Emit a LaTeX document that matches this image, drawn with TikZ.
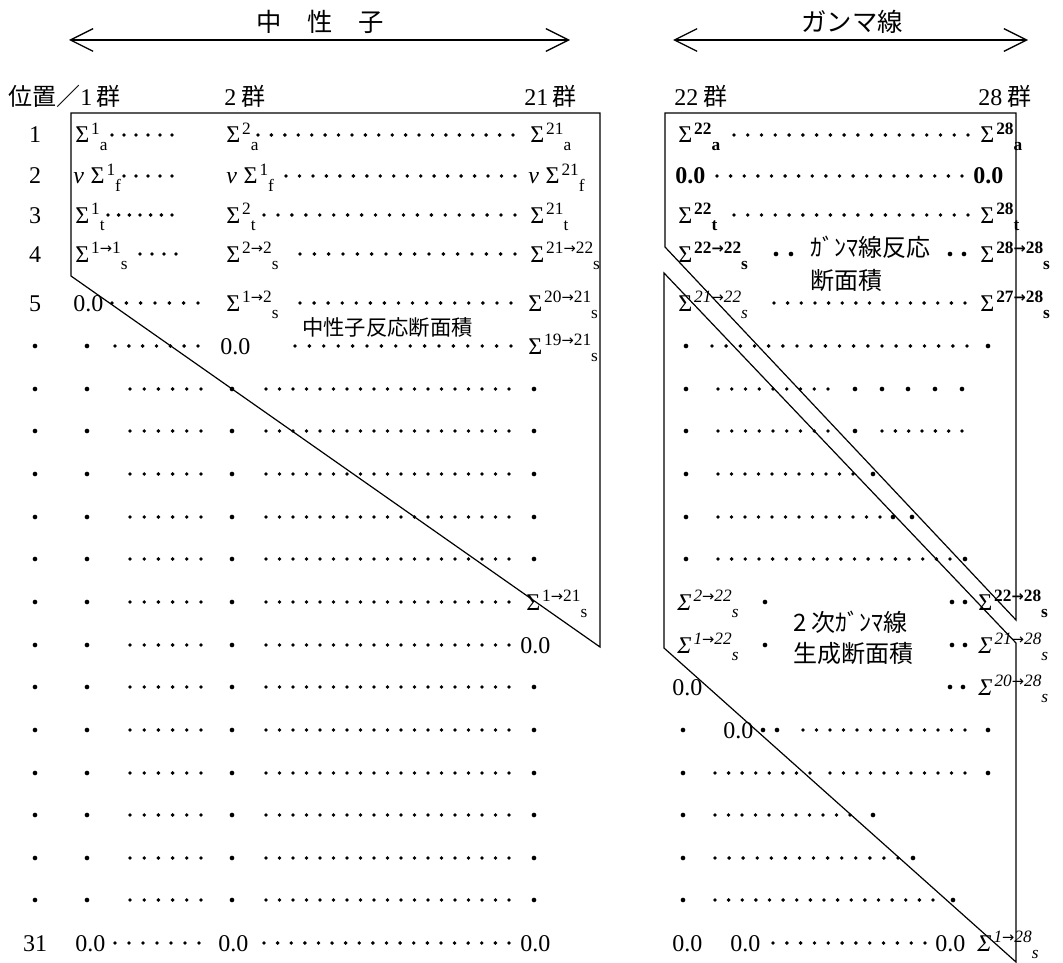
\documentclass[tikz,border=0pt]{standalone}
\usepackage{fontspec}
\setmainfont{Liberation Serif}
\newfontfamily\jpf{Noto Sans CJK JP}
\newfontfamily\arf{DejaVu Sans}
\usetikzlibrary{arrows.meta}
\newcommand{\ar}{{\arf\fontsize{11pt}{11pt}\selectfont →}}
\newcommand{\Sg}[2]{Σ\kern1.5pt\raisebox{0.36em}{\fontsize{13pt}{13pt}\selectfont #1}\raisebox{-0.3em}{\fontsize{13pt}{13pt}\selectfont #2}}
\newcommand{\Si}[2]{{\itshape Σ}\kern1.5pt\raisebox{0.36em}{\fontsize{13pt}{13pt}\selectfont\itshape #1}\raisebox{-0.3em}{\fontsize{13pt}{13pt}\selectfont\itshape #2}}
\newcommand{\nuv}{{\itshape ν}}
\newcommand{\dr}[4]{\pgfmathsetmacro{\dstep}{(#2-#1)/(#4-1)}\foreach \k in {1,...,#4}{\fill ({#1+(\k-1)*\dstep},#3) circle[radius=1.45pt];}}
\newcommand{\bd}[2]{\fill (#1,#2) circle[radius=1.75pt];}
\begin{document}
\begin{tikzpicture}[x=0.75pt,y=-0.75pt,
 t/.style={anchor=base west,inner sep=0pt,font=\fontsize{18pt}{20pt}\selectfont},
 rl/.style={anchor=base,inner sep=0pt,font=\fontsize{18pt}{20pt}\selectfont},
 jl/.style={anchor=base west,inner sep=0pt,font=\fontsize{18pt}{20pt}\selectfont\jpf},
 hd/.style={anchor=center,inner sep=0pt,font=\fontsize{19pt}{21pt}\selectfont\jpf},
 bar/.style={line width=0.9pt,line join=miter},
 darr/.style={line width=1pt,{Straight Barb[length=17pt,width=17pt]}-{Straight Barb[length=17pt,width=17pt]}}]
\useasboundingbox (0,0) rectangle (1063,963);

% ---------- headers ----------
\node[hd] (hN) at (320,22) {中\hspace{19pt}性\hspace{19pt}子};
\coordinate (nL) at (69,40); \coordinate (nR) at (570,40);
\draw[darr] (nL) -- (nR);
\node[hd] (hG) at (852,22) {ガンマ線};
\coordinate (gL) at (673,40); \coordinate (gR) at (1028,40);
\draw[darr] (gL) -- (gR);

\node[t] (c1) at (8,106) {{\jpf 位置／}1\hspace{3pt}{\jpf 群}};
\node[t] (c2) at (224,106) {2\hspace{4pt}{\jpf 群}};
\node[t] (c21) at (524,106) {21\hspace{3pt}{\jpf 群}};
\node[t] (c22) at (674,106) {22\hspace{4pt}{\jpf 群}};
\node[t] (c28) at (978,106) {28\hspace{4pt}{\jpf 群}};

% ---------- left panel ----------
\draw[bar] (71,113) -- (600,113) -- (600,647) -- (71,276) -- cycle;

% row 1
\node[rl] (n1) at (35,143) {1};
\node[t] (a1) at (75,143) {\Sg{1}{a}};
\dr{112}{172}{135}{6}
\node[t] (b1) at (226,143) {\Sg{2}{a}};
\dr{258}{513}{135}{20}
\node[t] (z1) at (530,143) {\Sg{21}{a}};
% row 2
\node[rl] (n2) at (35,184) {2};
\node[t] (a2) at (73,184) {\nuv\hspace{5pt}\Sg{1}{f}};
\dr{124}{172}{176}{5}
\node[t] (b2) at (226,184) {\nuv\hspace{5pt}\Sg{1}{f}};
\dr{286}{515}{176}{18}
\node[t] (z2) at (528,184) {\nuv\hspace{5pt}\Sg{21}{f}};
% row 3
\node[rl] (n3) at (35,223) {3};
\node[t] (a3) at (75,223) {\Sg{1}{t}};
\dr{108}{172}{215}{7}
\node[t] (b3) at (226,223) {\Sg{2}{t}};
\dr{264}{515}{215}{19}
\node[t] (z3) at (530,223) {\Sg{21}{t}};
% row 4
\node[rl] (n4) at (35,262) {4};
\node[t] (a4) at (75,262) {\Sg{1\ar1}{s}};
\dr{140}{176}{254}{4}
\node[t] (b4) at (226,262) {\Sg{2\ar2}{s}};
\dr{300}{515}{254}{16}
\node[t] (z4) at (530,262) {\Sg{21\ar22}{s}};
% row 5
\node[rl] (n5) at (35,311) {5};
\node[t] (a5) at (73,311) {0.0};
\dr{112}{198}{303}{7}
\node[t] (b5) at (226,311) {\Sg{1\ar2}{s}};
\dr{300}{511}{303}{16}
\node[t] (z5) at (528,311) {\Sg{20\ar21}{s}};
\node[jl,font=\fontsize{16pt}{18pt}\selectfont\jpf] (lblN) at (302,335) {中性子反応断面積};
% row 6
\bd{35}{346} \bd{87}{346}
\dr{115}{198}{346}{7}
\node[t] (b6) at (220,354) {0.0};
\dr{295}{511}{346}{16}
\node[t] (z6) at (528,354) {\Sg{19\ar21}{s}};
% plain dotted rows
\foreach \yy in {389,431,474,517,559,602,645,687,730,773,815,858,900}{
  \bd{35}{\yy} \bd{87}{\yy}
  \dr{130}{201}{\yy}{6}
  \bd{232}{\yy}
  \dr{266}{509}{\yy}{19}
}
\foreach \yy in {389,431,474,517,559,687,730,773,815,858,900}{\bd{534}{\yy}}
\node[t] (z12) at (526,610) {\Sg{1\ar21}{s}};
\node[t] (z13) at (520,653) {0.0};
% row 31
\node[rl] (n31) at (35,951) {31};
\node[t] (a31) at (75,951) {0.0};
\dr{115}{199}{943}{7}
\node[t] (b31) at (218,951) {0.0};
\dr{264}{509}{943}{19}
\node[t] (z31) at (520,951) {0.0};

% ---------- right panel ----------
\draw[bar] (665,113) -- (1016,113) -- (1016,620) -- (665,247) -- cycle;
\draw[bar] (664,273) -- (1016,643) -- (1016,962) -- (664,648) -- cycle;

% row 1
\node[t] (r1a) at (678,143) {\Sg{\bfseries 22}{\bfseries a}};
\dr{734}{968}{135}{18}
\node[t] (r1z) at (980,143) {\Sg{\bfseries 28}{\bfseries a}};
% row 2
\node[t] (r2a) at (675,184) {\textbf{0.0}};
\dr{717}{962}{176}{19}
\node[t] (r2z) at (973,184) {\textbf{0.0}};
% row 3
\node[t] (r3a) at (678,223) {\Sg{\bfseries 22}{\bfseries t}};
\dr{734}{968}{215}{18}
\node[t] (r3z) at (980,223) {\Sg{\bfseries 28}{\bfseries t}};
% row 4
\node[t] (r4a) at (678,262) {\Sg{\bfseries 22\ar22}{\bfseries s}};
\bd{776}{254} \bd{791}{254}
\node[jl] (lblG1) at (810,256) {ｶﾞﾝﾏ線反応};
\node[jl] (lblG2) at (810,289) {断面積};
\bd{950}{254} \bd{964}{254}
\node[t] (r4z) at (980,262) {\Sg{\bfseries 28\ar28}{\bfseries s}};
% row 5
\node[t] (r5a) at (678,311) {\Sg{\itshape 21\ar22}{\itshape s}};
\dr{774}{965}{303}{15}
\node[t] (r5z) at (980,311) {\Sg{\bfseries 27\ar28}{\bfseries s}};
% row 6
\bd{686}{346} \dr{712}{967}{346}{19} \bd{988}{346}
% row 7
\bd{686}{389} \dr{718}{828}{389}{9}
\foreach \xx in {855,882,908,935,962}{\bd{\xx}{389}}
% row 8
\bd{686}{431} \dr{718}{828}{431}{9} \bd{855}{431} \dr{882}{962}{431}{7}
% row 9
\bd{686}{474} \dr{718}{853}{474}{11} \bd{873}{474}
% row 10
\bd{686}{517} \dr{718}{880}{517}{13} \bd{893}{517} \bd{912}{517}
% row 11
\bd{686}{559} \dr{718}{950}{559}{18} \bd{965}{559}
% row 12
\node[t] (r12a) at (677,610) {\Si{2\ar22}{s}};
\bd{765}{602}
\node[jl] (lblS1) at (793,631) {2\hspace{4pt}次ｶﾞﾝﾏ線};
\bd{952}{602} \bd{965}{602}
\node[t] (r12z) at (978,610) {\Sg{\bfseries 22\ar28}{\bfseries s}};
% row 13
\node[t] (r13a) at (677,653) {\Si{1\ar22}{s}};
\bd{765}{645}
\node[jl] (lblS2) at (793,662) {生成断面積};
\bd{952}{645} \bd{965}{645}
\node[t] (r13z) at (978,653) {\Si{21\ar28}{s}};
% row 14
\node[t] (r14a) at (672,695) {0.0};
\bd{950}{687} \bd{963}{687}
\node[t] (r14z) at (978,695) {\Si{20\ar28}{s}};
% row 15
\bd{683}{730}
\node[t] (r15b) at (723,738) {0.0};
\bd{763}{730} \bd{777}{730}
\dr{803}{965}{730}{13} \bd{988}{730}
% row 16
\bd{683}{773} \dr{715}{810}{773}{8} \dr{830}{965}{773}{11} \bd{988}{773}
% row 17
\bd{683}{815} \dr{715}{850}{815}{11} \bd{873}{815}
% row 18
\bd{683}{858} \dr{715}{898}{858}{14} \bd{913}{858}
% row 19
\bd{683}{900} \dr{715}{933}{900}{17} \bd{953}{900}
% row 31
\node[t] (r31a) at (672,951) {0.0};
\node[t] (r31b) at (730,951) {0.0};
\dr{773}{925}{943}{12}
\node[t] (r31c) at (935,951) {0.0};
\node[t] (r31z) at (977,951) {\Si{1\ar28}{s}};
\end{tikzpicture}
\end{document}
